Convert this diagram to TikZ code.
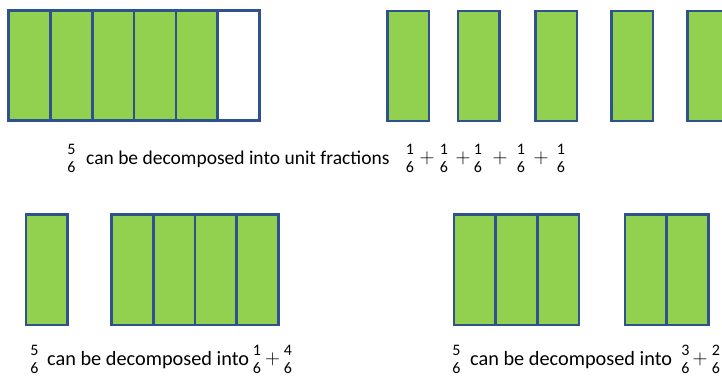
\documentclass[tikz,border=0pt]{standalone}
\usepackage{fontspec}
\setmainfont{Carlito}
\definecolor{cellgreen}{HTML}{92D050}
\definecolor{cellblue}{HTML}{2F528F}
\tikzset{
  cell/.style={draw=cellblue, fill=cellgreen, line width=2.6pt,
    minimum width=41.7pt, minimum height=110pt, inner sep=0pt, outer sep=0pt},
  emptycell/.style={cell, fill=white},
  caption/.style={anchor=base west, inner sep=0pt, font=\fontsize{19.5}{23}\selectfont},
  widecaption/.style={caption, font=\fontsize{20.3}{23}\selectfont},
  frac/.style={align=center, inner sep=0pt, font=\fontsize{16}{18}\selectfont},
  plus/.style={inner sep=0pt, font=\fontsize{22}{24}\selectfont},
}
\newcommand{\plussign}{$+$}
\begin{document}
\begin{tikzpicture}[x=1pt, y=-1pt]
  \useasboundingbox (0,0) rectangle (722,379);

  % five sixths shaded in one whole
  \foreach \i in {0,...,4}
    \node[cell] (w\i) at ({29.6+41.8*\i},65.8) {};
  \node[emptycell] (w5) at ({29.6+41.8*5},65.8) {};

  % the five unit pieces pulled apart
  \node[cell] (u1) at (408.3,66) {};
  \node[cell] (u2) at (478.7,66) {};
  \node[cell] (u3) at (556.3,66) {};
  \node[cell] (u4) at (632.3,66) {};
  \node[cell] (u5) at (708.2,66) {};

  \node[frac] (f0) at (71.5,158.5) {5\\6};
  \node[caption] (t0) at (86,165) {can be decomposed into unit fractions};
  \node[frac] (f1) at (410,158.5) {1\\6};
  \node[plus] (p1) at (427,158.5) {\plussign};
  \node[frac] (f2) at (444,158.5) {1\\6};
  \node[plus] (p2) at (463,158.5) {\plussign};
  \node[frac] (f3) at (478,158.5) {1\\6};
  \node[plus] (p3) at (500,158.5) {\plussign};
  \node[frac] (f4) at (521,158.5) {1\\6};
  \node[plus] (p4) at (541,158.5) {\plussign};
  \node[frac] (f5) at (561,158.5) {1\\6};

  % one sixth and four sixths
  \node[cell] (a1) at (46.9,269.8) {};
  \foreach \i in {0,...,3}
    \node[cell] (b\i) at ({132.5+41.65*\i},269.8) {};

  \node[frac] (g0) at (34.5,359) {5\\6};
  \node[widecaption] (t1) at (47,365.5) {can be decomposed into};
  \node[frac] (g1) at (257,359) {1\\6};
  \node[plus] (q1) at (272.5,359) {\plussign};
  \node[frac] (g2) at (288,359) {4\\6};

  % three sixths and two sixths
  \foreach \i in {0,...,2}
    \node[cell] (c\i) at ({474.8+41.67*\i},269.8) {};
  \foreach \i in {0,...,1}
    \node[cell] (d\i) at ({645.8+41.67*\i},269.8) {};

  \node[frac] (h0) at (456.5,359) {5\\6};
  \node[widecaption] (t2) at (470,365.5) {can be decomposed into};
  \node[frac] (h1) at (685.5,359) {3\\6};
  \node[plus] (r1) at (700,359) {\plussign};
  \node[frac] (h2) at (716,359) {2\\6};
\end{tikzpicture}
\end{document}
